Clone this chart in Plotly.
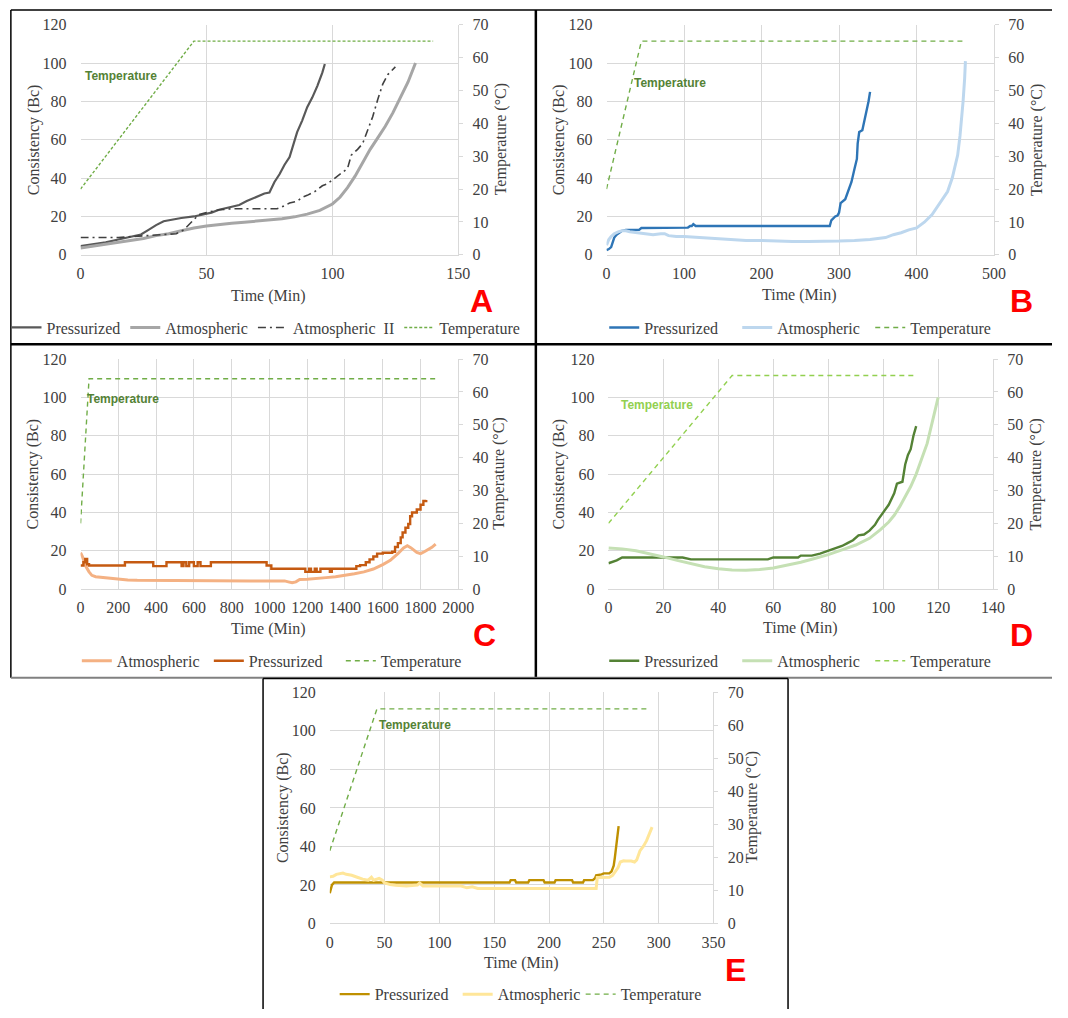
import plotly.graph_objects as go

W, H = 1068, 1018


def px(x):
    return x / W


def py(y):
    return 1 - y / H


# ---------------- DATA ----------------
# Panel A
A_time_press = [0, 5, 10, 15, 20, 24, 27, 30, 33, 35, 40, 45, 48, 52, 55, 60, 63, 66, 70, 73, 75, 77, 79, 81, 83, 84, 86, 88, 90, 92, 94, 96, 97]
A_press = [4.6, 5.5, 6.5, 8, 9.5, 10.6, 13, 15.5, 17.5, 18, 19.2, 20, 21, 22, 23.5, 25, 26, 28, 30.5, 32, 32.5, 38, 42, 47, 51, 55, 64, 70, 77, 82, 88, 95, 99.5]
A_time_atm = [0, 5, 10, 15, 20, 25, 30, 35, 40, 45, 50, 55, 60, 65, 70, 75, 80, 85, 90, 95, 100, 103, 106, 109, 112, 115, 118, 121, 124, 127, 130, 133]
A_atm = [3.5, 4.5, 5.5, 6.5, 7.5, 8.5, 10, 11, 12.5, 14, 15, 15.8, 16.5, 17, 17.5, 18, 18.8, 19.8, 21.2, 23.2, 26.5, 30, 35, 41, 48, 55, 61, 67, 74, 82, 90, 100]
A_time_atm2 = [0, 5, 10, 15, 20, 25, 30, 35, 38, 41, 44, 47, 50, 55, 60, 65, 70, 75, 78, 80, 83, 86, 88, 90, 93, 96, 98, 101, 104, 106, 107.5, 110, 112, 114, 116, 118, 120, 122, 124, 125]
A_atm2 = [9, 9, 9, 9, 9.5, 10, 10.5, 11, 11, 13, 17, 21, 22, 23.5, 24, 24, 24, 24, 24, 25, 27, 28, 30, 31, 33, 36, 37, 40, 43, 45, 52, 55, 58, 65, 72, 81, 89, 94, 97, 98]
A_temp_time = [0, 45, 140]
A_temp = [20, 65, 65]

# Panel B
B_time_press = [0, 3, 6, 8, 10, 13, 16, 20, 25, 28, 35, 42, 45, 100, 105, 108, 110, 112, 115, 288, 290, 295, 298, 300, 302, 308, 312, 316, 320, 323, 324, 326, 330, 333, 336, 338, 340]
B_press = [2.5, 3, 4, 6, 9, 10.5, 11.5, 12.5, 13, 13, 13, 13, 14, 14, 14.2, 15, 15, 16, 15, 15, 18, 20, 20.5, 22, 27, 29, 33, 38, 45, 50, 58, 64, 65, 70, 75, 80, 85]
B_time_atm = [0, 3, 6, 10, 15, 20, 25, 30, 40, 50, 60, 70, 75, 80, 90, 100, 120, 140, 160, 180, 200, 220, 240, 260, 280, 300, 320, 340, 360, 370, 380, 390, 400, 410, 420, 430, 440, 446, 450, 453, 456, 458, 460, 462, 463]
B_atm = [5, 8, 9.5, 11, 12, 12.5, 12.5, 12, 11.5, 11, 10.5, 11, 11, 10, 9.5, 9.5, 9, 8.5, 8, 7.5, 7.5, 7.2, 7, 7, 7, 7.2, 7.5, 8, 9, 10.5, 11.5, 13, 14, 17, 21, 27, 33, 40, 46, 52, 62, 70, 80, 92, 101]
B_temp_time = [0, 45, 460]
B_temp = [20, 65, 65]

# Panel C
C_time_atm = [0, 10, 20, 30, 45, 60, 80, 100, 130, 160, 200, 250, 300, 400, 500, 600, 700, 800, 900, 1000, 1080, 1100, 1120, 1140, 1160, 1200, 1250, 1300, 1350, 1400, 1450, 1500, 1550, 1600, 1640, 1680, 1710, 1730, 1750, 1780, 1800, 1820, 1840, 1860, 1880]
C_atm = [19, 17, 14, 11.5, 9, 7.2, 6.5, 6.3, 5.8, 5.5, 5, 4.8, 4.6, 4.5, 4.4, 4.3, 4.3, 4.3, 4.3, 4.3, 4.3, 3.8, 3.3, 3.8, 5, 5.2, 5.5, 6, 6.5, 7.2, 8, 9, 10.5, 12.8, 15, 18.5, 21.5, 22.6, 21.5, 19.2, 18.5, 19.5, 20.5, 21.8, 23.5]
C_time_press = [0, 15, 25, 35, 45, 235, 385, 455, 535, 545, 560, 575, 600, 620, 635, 690, 730, 985, 1010, 1190, 1210, 1220, 1240, 1250, 1270, 1320, 1330, 1460, 1480, 1510, 1530, 1550, 1570, 1600, 1650, 1665, 1680, 1695, 1705, 1720, 1735, 1745, 1755, 1780, 1800, 1815, 1830]
C_press = [12.3, 14, 15.8, 13, 12.3, 14, 12, 14, 12, 14, 12, 14, 12, 14, 12, 14, 14, 12.3, 10.6, 9, 10.6, 9, 10.6, 9, 10.6, 9, 10.6, 12, 12.5, 14, 15.5, 17, 18.5, 19, 19.5, 22, 24, 27, 29.5, 32, 34, 38, 40, 41.5, 44, 46, 46.5]
C_temp_time = [0, 45, 1880]
C_temp = [20, 64, 64]

# Panel D
D_time_press = [0, 1, 3, 5, 10, 20, 27, 30, 40, 50, 58, 60, 65, 69, 70, 74, 77, 80, 83, 85, 87, 89, 91, 93, 95, 97, 98, 100, 102, 104, 105, 107, 108, 109, 110, 111, 112]
D_press = [13.5, 14, 15, 16.5, 16.5, 16.5, 16.5, 15.5, 15.5, 15.5, 15.5, 16.5, 16.5, 16.5, 17.5, 17.5, 18.5, 20, 21.5, 22.5, 24, 25.5, 28, 28.5, 30.5, 33.5, 36, 40, 44, 50, 55, 56, 65, 70, 73, 80, 85]
D_time_atm = [0, 5, 10, 15, 20, 25, 30, 35, 40, 45, 50, 55, 60, 65, 70, 75, 80, 85, 90, 95, 99, 102, 104, 106, 108, 110, 112, 114, 116, 118, 120]
D_atm = [21.5, 21, 20, 18.5, 16.8, 15, 13.2, 11.7, 10.6, 10, 9.8, 10.2, 11, 12.5, 14, 16, 18, 20.5, 23, 26.5, 31, 35, 38.5, 43, 48, 53.5, 60, 68, 76, 88, 100]
D_temp_time = [0, 45, 112]
D_temp = [20, 65, 65]

# Panel E
E_time_press = [0, 1, 2, 4, 164, 165, 169, 170, 181, 182, 195, 196, 205, 206, 221, 222, 231, 232, 240, 242, 243, 248, 250, 255, 257, 258, 259, 260, 261, 262, 263, 263.5]
E_press = [15.7, 18, 20, 21.3, 21.3, 22.5, 22.5, 21.3, 21.3, 22.5, 22.5, 21.3, 21.3, 22.5, 22.5, 21.3, 21.3, 22.5, 22.5, 23.5, 25, 25.5, 26, 26, 27, 28.5, 30, 34, 38, 43, 47, 50.5]
E_time_atm = [0, 3, 6, 9, 12, 15, 20, 25, 30, 35, 38, 40, 45, 48, 50, 55, 60, 70, 80, 82, 85, 90, 100, 110, 120, 125, 130, 135, 140, 160, 180, 200, 220, 243, 244, 250, 255, 258, 260, 263, 265, 268, 270, 275, 278, 280, 283, 286, 289, 292, 294]
E_atm = [24.2, 24.5, 25.5, 25.8, 26.2, 25.5, 25, 24, 23, 22.5, 24, 22.5, 23.4, 22.5, 21, 20.2, 19.8, 19.5, 20, 21, 19.5, 19.5, 19.5, 19.5, 19.4, 18.5, 19, 18.2, 18.2, 18.2, 18.2, 18.2, 18.2, 18.2, 23.9, 23.9, 24, 25, 26.8, 29, 31.9, 32.5, 32.4, 32.4, 31.9, 33, 37.8, 40, 43, 47, 50]
E_temp_time = [0, 43, 290]
E_temp = [22, 65, 65]

# axis ranges
CONS_RANGE = [0, 120]
TEMP_RANGE = [0, 70]

# ---------------- STYLE ----------------
SERIF = "Liberation Serif, Times New Roman, serif"
SANS = "Liberation Sans, Arial, sans-serif"
TXT = "#404040"
GRID = "#D9D9D9"
TGREEN = "#70AD47"

fig = go.Figure()

panels = [
    dict(letter="A", box=(78, 463, 17, 251), xr=[0, 150], dt=50,
         series=[("Pressurized", A_time_press, A_press, "#595959", 2.2, "solid", False),
                 ("Atmospheric", A_time_atm, A_atm, "#A6A6A6", 3, "solid", False),
                 ("Atmospheric  II", A_time_atm2, A_atm2, "#404040", 1.6, "8px,4px,2px,4px", False),
                 ("Temperature", A_temp_time, A_temp, TGREEN, 1.4, "3px,2px", True)],
         leg=(267, 325), ew=None, ann=(81, 69, "#548235"), lab=(487, 298),
         xt=(270, 293), yl=(30, 134), yr=(506, 134)),
    dict(letter="B", box=(614, 1009, 17, 251), xr=[0, 500], dt=100,
         series=[("Pressurized", B_time_press, B_press, "#2E75B6", 2.4, "solid", False),
                 ("Atmospheric", B_time_atm, B_atm, "#BDD7EE", 3, "solid", False),
                 ("Temperature", B_temp_time, B_temp, TGREEN, 1.4, "5px,4px", True)],
         leg=(815, 325), ew=88, ann=(640, 76, "#548235"), lab=(1037, 298),
         xt=(811, 292), yl=(565, 134), yr=(1052, 134)),
    dict(letter="C", box=(78, 463, 357, 591), xr=[0, 2000], dt=200,
         series=[("Atmospheric", C_time_atm, C_atm, "#F4B183", 3, "solid", False),
                 ("Pressurized", C_time_press, C_press, "#C55A11", 2.4, "solid", "hv"),
                 ("Temperature", C_temp_time, C_temp, TGREEN, 1.4, "5px,4px", True)],
         leg=(276, 664), ew=87, ann=(83, 398, "#548235"), lab=(490, 638),
         xt=(270, 632), yl=(30, 474), yr=(505, 474)),
    dict(letter="D", box=(616, 1008, 357, 591), xr=[0, 140], dt=20,
         series=[("Pressurized", D_time_press, D_press, "#548235", 2.4, "solid", False),
                 ("Atmospheric", D_time_atm, D_atm, "#C5E0B4", 3, "solid", False),
                 ("Temperature", D_temp_time, D_temp, "#92D050", 1.4, "5px,4px", True)],
         leg=(815, 664), ew=88, ann=(627, 404, "#92D050"), lab=(1037, 638),
         xt=(812, 631), yl=(566, 474), yr=(1052, 474)),
    dict(letter="E", box=(332, 723, 696, 931), xr=[0, 350], dt=50,
         series=[("Pressurized", E_time_press, E_press, "#BF9000", 2.4, "solid", False),
                 ("Atmospheric", E_time_atm, E_atm, "#FFE699", 3, "solid", False),
                 ("Temperature", E_temp_time, E_temp, TGREEN, 1.4, "5px,4px", True)],
         leg=(525, 1003), ew=78, ann=(380, 729, "#548235"), lab=(745, 978),
         xt=(527, 971), yl=(285, 813), yr=(763, 813)),
]

annotations = []
for k, p in enumerate(panels, start=1):
    xa = "x" if k == 1 else f"x{k}"
    yl_i, yr_i = 2 * k - 1, 2 * k
    yl_name = "y" if yl_i == 1 else f"y{yl_i}"
    yr_name = f"y{yr_i}"
    leg_name = "legend" if k == 1 else f"legend{k}"
    x0, x1, y0, y1 = p["box"]

    for name, xs, ys, col, w, dash, right in p["series"]:
        shape = "linear"
        if right == "hv":
            shape = "hv"
            right = False
        fig.add_trace(go.Scatter(
            x=xs, y=ys, mode="lines", name=name,
            line=dict(color=col, width=w, dash=dash, shape=shape),
            xaxis=xa, yaxis=yr_name if right else yl_name,
            legend=leg_name, hoverinfo="skip"))

    xkey = "xaxis" if k == 1 else f"xaxis{k}"
    ylkey = "yaxis" if yl_i == 1 else f"yaxis{yl_i}"
    yrkey = f"yaxis{yr_i}"
    tickfont = dict(family=SERIF, size=16, color=TXT)
    fig.layout[xkey] = dict(
        domain=[px(x0), px(x1)], anchor=yl_name, range=p["xr"], dtick=p["dt"],
        showgrid=True, gridcolor=GRID, gridwidth=1, zeroline=False,
        showline=True, linecolor=GRID, ticks="", tickfont=tickfont,
        ticklabelstandoff=4, fixedrange=True)
    fig.layout[ylkey] = dict(
        domain=[py(y1), py(y0)], anchor=xa, range=CONS_RANGE, dtick=20,
        showgrid=True, gridcolor=GRID, zeroline=False, showline=False,
        ticks="", tickfont=tickfont, ticklabelstandoff=13, fixedrange=True)
    fig.layout[yrkey] = dict(
        domain=[py(y1), py(y0)], anchor=xa, overlaying=yl_name, side="right",
        range=TEMP_RANGE, dtick=10, showgrid=False, zeroline=False,
        showline=True, linecolor=GRID, ticks="outside", ticklen=4,
        tickcolor=GRID, tickfont=tickfont, ticklabelstandoff=6, fixedrange=True)

    leg = dict(orientation="h", x=px(p["leg"][0]), xanchor="center",
               y=py(p["leg"][1]), yanchor="middle", traceorder="normal",
               font=dict(family=SERIF, size=16, color=TXT),
               bgcolor="rgba(0,0,0,0)", borderwidth=0)
    if p["ew"]:
        leg["entrywidth"] = p["ew"]
    fig.layout[leg_name] = leg

    ax, ay, acol = p["ann"]
    annotations.append(dict(text="<b>Temperature</b>", x=px(ax), y=py(ay),
                            xref="paper", yref="paper", xanchor="left", yanchor="middle",
                            showarrow=False, font=dict(family=SANS, size=12, color=acol)))
    annotations.append(dict(text=f"<b>{p['letter']}</b>", x=px(p["lab"][0]), y=py(p["lab"][1]),
                            xref="paper", yref="paper", xanchor="center", yanchor="middle",
                            showarrow=False, font=dict(family=SANS, size=32, color="#FF0000")))
    annotations.append(dict(text="Time (Min)", x=px(p["xt"][0]), y=py(p["xt"][1]),
                            xref="paper", yref="paper", xanchor="center", yanchor="middle",
                            showarrow=False, font=dict(family=SERIF, size=16, color=TXT)))
    annotations.append(dict(text="Consistency (Bc)", x=px(p["yl"][0]), y=py(p["yl"][1]),
                            xref="paper", yref="paper", xanchor="center", yanchor="middle",
                            textangle=-90, showarrow=False,
                            font=dict(family=SERIF, size=16, color=TXT)))
    annotations.append(dict(text="Temperature (°C)", x=px(p["yr"][0]), y=py(p["yr"][1]),
                            xref="paper", yref="paper", xanchor="center", yanchor="middle",
                            textangle=-90, showarrow=False,
                            font=dict(family=SERIF, size=16, color=TXT)))


# panel frames
def hline(y, xa, xb, color="#000000", width=1.5):
    return dict(type="line", xref="paper", yref="paper", x0=px(xa), x1=px(xb),
                y0=py(y), y1=py(y), line=dict(color=color, width=width))


def vline(x, ya, yb, color="#000000", width=1.5):
    return dict(type="line", xref="paper", yref="paper", x0=px(x), x1=px(x),
                y0=py(ya), y1=py(yb), line=dict(color=color, width=width))


shapes = [
    hline(2, 7, 1068),
    vline(7, 2, 681),
    vline(542, 2, 681, width=2.5),
    hline(342, 7, 1068, width=2.5),
    hline(681, 7, 1068, color="#808080", width=2),
    vline(264, 682, 1018),
    vline(799, 682, 1018),
    hline(682, 264, 799),
]

fig.update_layout(
    width=W, height=H, margin=dict(l=0, r=0, t=0, b=0),
    paper_bgcolor="white", plot_bgcolor="white",
    annotations=annotations, shapes=shapes, showlegend=True,
)

PAGE_FIX = (
    "document.documentElement.style.margin='0';"
    "document.documentElement.style.overflow='hidden';"
    "document.body.style.margin='0';"
    "document.body.style.overflow='hidden';"
    "var d=document.getElementById('{plot_id}');"
    "d.style.position='fixed';d.style.left='0px';d.style.top='0px';"
)

fig.write_html("out.html", config={"displayModeBar": False}, post_script=PAGE_FIX)
